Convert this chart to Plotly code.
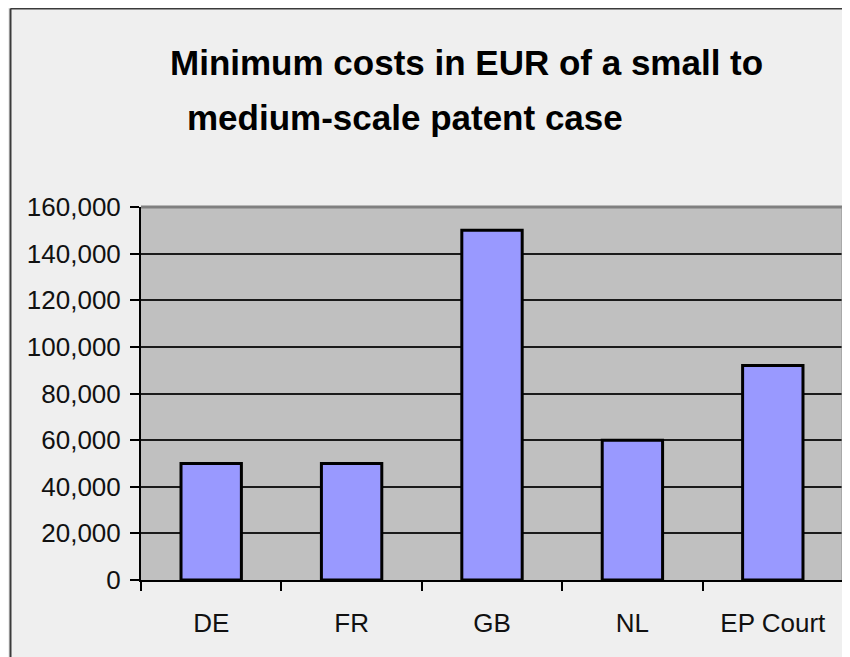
import plotly.graph_objects as go

categories = ["DE", "FR", "GB", "NL", "EP Court"]
min_costs_eur = [50000, 50000, 150000, 60000, 92000]
y_tick_values = [0, 20000, 40000, 60000, 80000, 100000, 120000, 140000, 160000]
title_line1 = "Minimum costs in EUR of a small to"
title_line2 = "medium-scale patent case"

FONT = "Liberation Sans, Arial, sans-serif"
# page body has an 8px margin, so the figure is sized/positioned to compensate
W, H = 842, 649
L, R, T, B = 133, 7, 199, 77
pw, ph = W - L - R, H - T - B

fig = go.Figure(
    go.Bar(
        x=categories,
        y=min_costs_eur,
        marker=dict(color="#9999ff", line=dict(color="black", width=3)),
        width=0.43,
    )
)

def px_x(x):
    return (x - L) / pw

def px_y(y):
    return (H - B - y) / ph

fig.update_layout(
    width=W,
    height=H,
    margin=dict(l=L, r=R, t=T, b=B),
    paper_bgcolor="#efefef",
    plot_bgcolor="#c0c0c0",
    showlegend=False,
    font=dict(family=FONT, color="black"),
    xaxis=dict(
        type="category",
        tickson="boundaries",
        ticks="outside",
        ticklen=9,
        tickwidth=1.5,
        tickcolor="black",
        showline=True,
        linecolor="black",
        linewidth=2,
        showgrid=False,
        tickfont=dict(size=26, family=FONT, color="#111"),
        ticklabelstandoff=19,
    ),
    yaxis=dict(
        range=[0, 160000],
        tickvals=y_tick_values,
        tickformat=",",
        ticks="outside",
        ticklen=9,
        tickwidth=1.5,
        tickcolor="black",
        showline=True,
        linecolor="black",
        linewidth=2,
        showgrid=True,
        gridcolor="#1a1a1a",
        gridwidth=1.6,
        zeroline=False,
        tickfont=dict(size=26, family=FONT, color="#111"),
        ticklabelstandoff=4,
    ),
    annotations=[
        dict(text="<b>" + title_line1 + "</b>", xref="paper", yref="paper",
             x=px_x(160), y=px_y(54), xanchor="left", yanchor="middle",
             showarrow=False, font=dict(size=35, family=FONT, color="black")),
        dict(text="<b>" + title_line2 + "</b>", xref="paper", yref="paper",
             x=px_x(177), y=px_y(109), xanchor="left", yanchor="middle",
             showarrow=False, font=dict(size=35, family=FONT, color="black")),
    ],
    shapes=[
        # grey plot-area border (top and right)
        dict(type="line", xref="paper", yref="paper", x0=0, x1=1, y0=1, y1=1,
             line=dict(color="#808080", width=3), layer="above"),
        dict(type="line", xref="paper", yref="paper", x0=1, x1=1, y0=0, y1=1,
             line=dict(color="#909090", width=3), layer="above"),
        # outer chart frame (left and top edges)
        dict(type="line", xref="paper", yref="paper", x0=px_x(2.5), x1=px_x(2.5),
             y0=px_y(0.5), y1=px_y(H + 5), line=dict(color="#3a3a3a", width=2)),
        dict(type="line", xref="paper", yref="paper", x0=px_x(2.5), x1=px_x(W + 5),
             y0=px_y(0.5), y1=px_y(0.5), line=dict(color="#3a3a3a", width=2)),
    ],
)

fig.write_html("out.html")
